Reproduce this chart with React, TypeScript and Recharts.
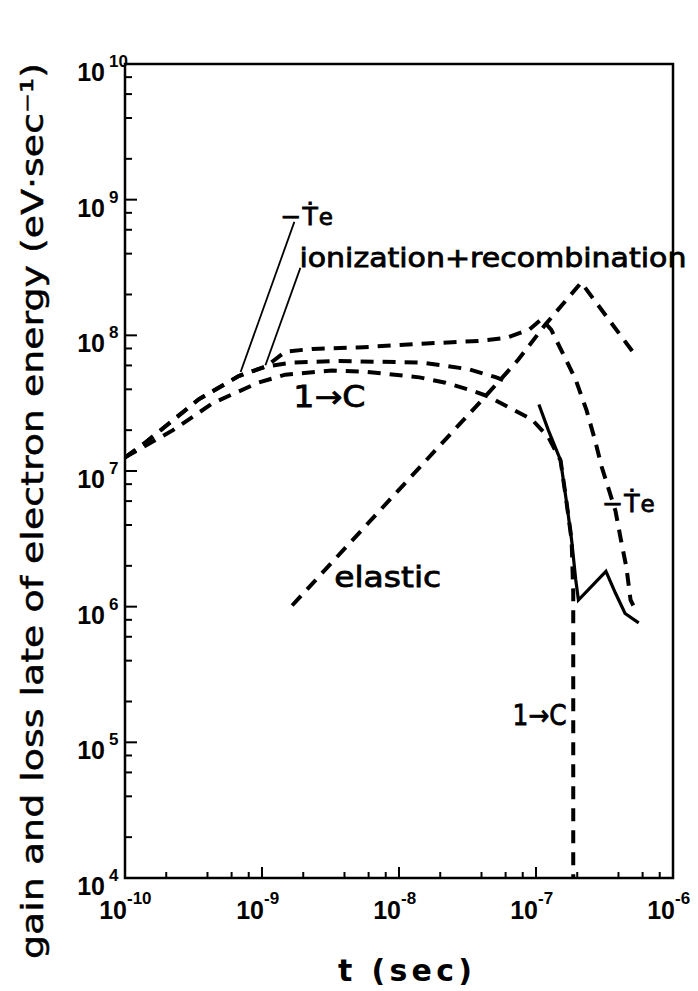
import { LineChart, Line, XAxis, YAxis, ReferenceArea, ReferenceLine, ReferenceDot, Label } from 'recharts'

const FONT = 'DejaVu Sans'
const NUM_FONT = 'Liberation Sans'

// t in sec, rate in eV/sec
const teT = [1e-10, 1.41e-10, 3.47e-10, 6.76e-10, 1.07e-9, 1.48e-9, 2.34e-9, 5.0e-9, 1.58e-8, 3.8e-8, 6.0e-8, 8.9e-8, 1.1e-7, 1.29e-7, 1.62e-7, 1.95e-7, 2.34e-7, 2.69e-7, 3.02e-7, 3.8e-7, 4.17e-7, 4.57e-7, 4.9e-7, 5.13e-7]
const teV = [1.26e7, 1.62e7, 3.39e7, 5.01e7, 5.89e7, 7.59e7, 7.94e7, 8.13e7, 8.7e7, 9.1e7, 9.55e7, 1.1e8, 1.32e8, 1.1e8, 6.9e7, 4.7e7, 2.8e7, 1.7e7, 1.07e7, 5.1e6, 3.1e6, 1.95e6, 1.12e6, 1.02e6]

const ionT = [1e-10, 1.41e-10, 3.47e-10, 6.76e-10, 1.07e-9, 1.66e-9, 3.63e-9, 1.41e-8, 2.04e-8, 3.24e-8, 5.13e-8, 5.75e-8]
const ionV = [1.26e7, 1.62e7, 3.39e7, 5.01e7, 5.89e7, 6.31e7, 6.46e7, 6.31e7, 6.03e7, 5.62e7, 4.9e7, 4.68e7]

const oneCT = [1e-10, 2.24e-10, 4.37e-10, 9.33e-10, 1.48e-9, 3.24e-9, 5.89e-9, 1.41e-8, 2.19e-8, 3.24e-8, 4.47e-8, 6.31e-8, 9.33e-8, 1.23e-7, 1.51e-7, 1.66e-7, 1.82e-7, 1.87e-7, 1.87e-7]
const oneCV = [1.26e7, 2.0e7, 3.16e7, 4.47e7, 5.13e7, 5.5e7, 5.37e7, 4.9e7, 4.47e7, 3.98e7, 3.55e7, 2.95e7, 2.4e7, 1.78e7, 1.2e7, 6.17e6, 3.09e6, 1.26e6, 1e4]

const elT = [1.66e-9, 1.95e-8, 4.27e-8, 7.41e-8, 1.17e-7, 2.14e-7, 5.25e-7]
const elV = [1.02e6, 1.51e7, 3.55e7, 6.6e7, 1.2e8, 2.45e8, 7.24e7]

const solidT = [1.05e-7, 1.23e-7, 1.51e-7, 1.66e-7, 1.82e-7, 1.95e-7, 2.04e-7, 3.24e-7, 3.8e-7, 4.47e-7, 5.62e-7]
const solidV = [3.09e7, 2.0e7, 1.2e7, 6.17e6, 3.09e6, 1.58e6, 1.12e6, 1.82e6, 1.26e6, 8.9e5, 7.6e5]

const xDecades = [1e-10, 1e-9, 1e-8, 1e-7, 1e-6]
const yDecades = [1e4, 1e5, 1e6, 1e7, 1e8, 1e9, 1e10]
const minorSteps = [2, 4, 6, 8]

const withMinor = (dec: number[]) =>
  dec.flatMap((d, i) => (i < dec.length - 1 ? [d, ...minorSteps.map((m) => d * m)] : [d]))
const xTicks = withMinor(xDecades)
const yTicks = withMinor(yDecades)

const pts = (t: number[], v: number[]) => t.map((x, i) => ({ t: x, v: v[i] }))

const isMajor = (val: number) => {
  const lg = Math.log10(val)
  return Math.abs(lg - Math.round(lg)) < 1e-9
}

function XTick(props: any) {
  const { x, y, payload } = props
  const major = isMajor(payload.value)
  const e = Math.round(Math.log10(payload.value))
  return (
    <g>
      <line x1={x} y1={y} x2={x} y2={y - (major ? 11 : 6)} stroke="#000" strokeWidth={2} />
      {major && (
        <text x={x + 2} y={y + 41} textAnchor="end" fontFamily={NUM_FONT} fontWeight={700} fontSize={25}>
          10
        </text>
      )}
      {major && (
        <text x={x + 2} y={y + 26} fontFamily={NUM_FONT} fontWeight={700} fontSize={17}>
          {e}
        </text>
      )}
    </g>
  )
}

function YTick(props: any) {
  const { x, y, payload } = props
  const major = isMajor(payload.value)
  const e = Math.round(Math.log10(payload.value))
  return (
    <g>
      <line x1={x} y1={y} x2={x + (major ? 12 : 7)} y2={y} stroke="#000" strokeWidth={2} />
      {major && (
        <text x={x - 20} y={y + 17} textAnchor="end" fontFamily={NUM_FONT} fontWeight={700} fontSize={25}>
          10
        </text>
      )}
      {major && (
        <text x={x - 16} y={y + 3} fontFamily={NUM_FONT} fontWeight={700} fontSize={17}>
          {e}
        </text>
      )}
    </g>
  )
}

function Note(props: any) {
  const { viewBox, text, size = 26, len } = props
  return (
    <text
      x={viewBox.x}
      y={viewBox.y}
      fontFamily={FONT}
      fontSize={size}
      stroke="#000"
      strokeWidth={0.8}
      textLength={len}
      lengthAdjust="spacingAndGlyphs"
    >
      {text}
    </text>
  )
}

function TeNote(props: any) {
  const { viewBox } = props
  return (
    <text x={viewBox.x} y={viewBox.y} fontFamily={FONT} fontSize={25} stroke="#000" strokeWidth={0.8}>
      <tspan>−</tspan>
      <tspan dx={1}>Ṫ</tspan>
      <tspan dx={1} fontSize={23}>e</tspan>
    </text>
  )
}

const dashed = { stroke: '#000', strokeWidth: 4, strokeDasharray: '13 9', dot: false, isAnimationActive: false, type: 'linear' as const }

export default function App() {
  return (
    <div style={{ position: 'absolute', left: 0, top: 0, width: 698, height: 991, background: '#fff' }}>
      <LineChart width={698} height={991} margin={{ top: 64, right: 25, bottom: 53, left: 0 }}>
        <XAxis
          dataKey="t"
          type="number"
          scale="log"
          domain={[1e-10, 1e-6]}
          allowDataOverflow
          ticks={xTicks}
          interval={0}
          tickSize={0}
          tickMargin={0}
          axisLine={false}
          tickLine={false}
          height={60}
          tick={(p: any) => <XTick {...p} />}
        >
          <Label
            content={() => (
              <text x={405} y={981} textAnchor="middle" fontFamily={FONT} fontWeight={700} fontSize={30} textLength={134} lengthAdjust="spacing">
                t (sec)
              </text>
            )}
          />
        </XAxis>
        <YAxis
          type="number"
          scale="log"
          domain={[1e4, 1e10]}
          allowDataOverflow
          ticks={yTicks}
          interval={0}
          tickSize={0}
          tickMargin={0}
          axisLine={false}
          tickLine={false}
          width={125}
          tick={(p: any) => <YTick {...p} />}
        >
          <Label
            content={() => (
              <text
                x={43}
                y={511}
                transform="rotate(-90, 43, 511)"
                textAnchor="middle"
                fontFamily={FONT}
                fontSize={31}
                stroke="#000"
                strokeWidth={0.5}
                textLength={896}
                lengthAdjust="spacingAndGlyphs"
              >
                gain and loss late of electron energy (eV·sec⁻¹)
              </text>
            )}
          />
        </YAxis>
        <ReferenceArea x1={1e-10} x2={1e-6} y1={1e4} y2={1e10} fill="none" stroke="#000" strokeWidth={2.5} fillOpacity={0} />

        <Line data={pts(elT, elV)} dataKey="v" {...dashed} />
        <Line data={pts(ionT, ionV)} dataKey="v" {...dashed} />
        <Line data={pts(oneCT, oneCV)} dataKey="v" {...dashed} />
        <Line data={pts(teT, teV)} dataKey="v" {...dashed} />
        <Line data={pts(solidT, solidV)} dataKey="v" stroke="#000" strokeWidth={3.2} dot={false} isAnimationActive={false} type="linear" />

        <ReferenceLine segment={[{ x: 10 ** -8.764, y: 10 ** 8.836 }, { x: 10 ** -9.156, y: 10 ** 7.73 }]} stroke="#000" strokeWidth={1.8} />
        <ReferenceLine segment={[{ x: 10 ** -8.72, y: 10 ** 8.497 }, { x: 10 ** -8.975, y: 10 ** 7.78 }]} stroke="#000" strokeWidth={1.8} />

        <ReferenceDot x={10 ** -8.865} y={10 ** 8.814} r={0} stroke="none" label={(p: any) => <TeNote {...p} />} />
        <ReferenceDot x={10 ** -6.516} y={10 ** 6.699} r={0} stroke="none" label={(p: any) => <TeNote {...p} />} />
        <ReferenceDot x={10 ** -8.727} y={10 ** 8.504} r={0} stroke="none" label={(p: any) => <Note {...p} text="ionization+recombination" size={26} len={387} />} />
        <ReferenceDot x={10 ** -8.771} y={10 ** 7.472} r={0} stroke="none" label={(p: any) => <Note {...p} text="1→C" size={30} len={72} />} />
        <ReferenceDot x={10 ** -8.473} y={10 ** 6.146} r={0} stroke="none" label={(p: any) => <Note {...p} text="elastic" size={29} len={107} />} />
        <ReferenceDot x={10 ** -7.171} y={10 ** 5.129} r={0} stroke="none" label={(p: any) => <Note {...p} text="1→C" size={28} len={54} />} />
      </LineChart>
    </div>
  )
}
